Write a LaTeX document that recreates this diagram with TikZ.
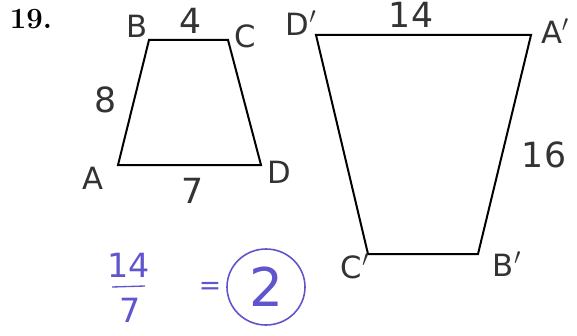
\documentclass[tikz,border=0pt]{standalone}
\usepackage{fontspec}
\setsansfont{DejaVu Sans}
\begin{document}
\begin{tikzpicture}[x=0.75pt,y=-0.75pt,
  edge/.style={line width=1.5pt,line join=miter},
  lbl/.style={font=\sffamily\fontsize{23}{23}\selectfont,text=black!80,inner sep=0pt},
  num/.style={font=\sffamily\fontsize{26}{26}\selectfont,text=black!80,inner sep=0pt},
  blu/.style={text={rgb,255:red,95;green,85;blue,205},font=\sffamily\fontsize{25}{25}\selectfont,inner sep=0pt}]
\definecolor{pen}{RGB}{95,85,205}
\useasboundingbox (0,0) rectangle (577,335);
\node[font=\bfseries\fontsize{22}{22}\selectfont,inner sep=0pt] (num) at (31,19) {19.};
% small trapezoid
\coordinate (B) at (149,40);
\coordinate (C) at (228,40);
\coordinate (D) at (261,165);
\coordinate (A) at (118,165);
\draw[edge] (B) -- (C) -- (D) -- (A) -- cycle;
% big trapezoid
\coordinate (Dp) at (316,35);
\coordinate (Ap) at (531,35);
\coordinate (Bp) at (478,254);
\coordinate (Cp) at (368,254);
\draw[edge] (Dp) -- (Ap) -- (Bp) -- (Cp) -- cycle;
% labels
\node[lbl] (lB) at (137,26) {B};
\node[num] (l4) at (191,21) {4};
\node[lbl] (lC) at (245,36) {C};
\node[num] (l8) at (106,100) {8};
\node[lbl] (lA) at (93,178) {A};
\node[num] (l7) at (193,191) {7};
\node[lbl] (lD) at (279,172) {D};
\node[lbl] (lDp) at (301,23) {D$'$};
\node[num] (l14) at (411,15) {14};
\node[lbl] (lAp) at (555,31) {A$'$};
\node[num] (l16) at (544,155) {16};
\node[lbl] (lCp) at (355,266) {C$'$};
\node[lbl] (lBp) at (507,264) {B$'$};
% blue work
\node[blu] (n14) at (129,265) {14};
\draw[pen,line width=1pt] (112,287) -- (145,286);
\node[blu] (n7) at (130,310) {7};
\node[blu,font=\sffamily\fontsize{20}{20}\selectfont] (eq) at (210,288) {=};
\node[blu,font=\sffamily\fontsize{40}{40}\selectfont] (two) at (266,287) {2};
\draw[pen,line width=1.2pt] (266,287) ellipse [x radius=39, y radius=38];
\end{tikzpicture}
\end{document}
